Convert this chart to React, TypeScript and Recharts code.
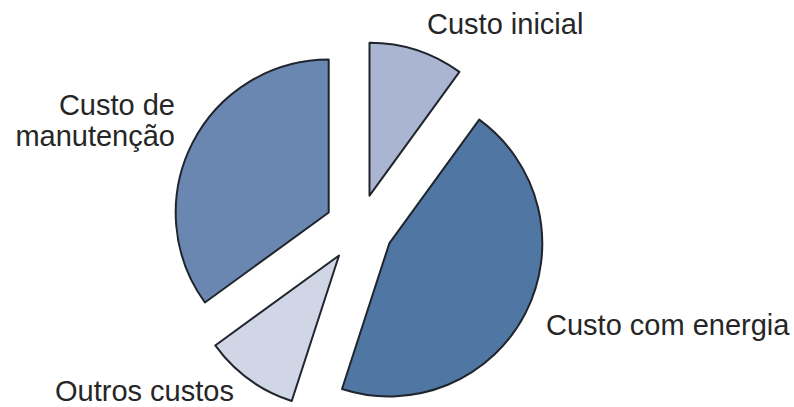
import React from "react";
import { PieChart, Pie, Cell } from "recharts";

// clockwise from 12 o'clock
const CATEGORIES = ["Custo inicial", "Custo com energia", "Outros custos", "Custo de manutenção"];
const SHARES = [10, 45, 10, 35];
const LABEL_LINES = [["Custo inicial"], ["Custo com energia"], ["Outros custos"], ["Custo de", "manutenção"]];

const COLORS = ["#aab6d1", "#5077a3", "#d0d6e5", "#6a87b2"];
const EDGE = "#20242c";
const TEXT = "#262626";
const FONT = "'Liberation Sans', Arial, sans-serif";

const W = 794;
const H = 407;
const CX = 359;
const CY = 228;
const RADIUS = 153;
const EXPLODE = 34;

// where each label sits (page px), hand placed like the original figure
const LABEL_POS = [
  { x: 427, y: 34, anchor: "start" },
  { x: 546, y: 335, anchor: "start" },
  { x: 55, y: 401, anchor: "start" },
  { x: 175, y: 115, anchor: "end" },
];

const rows = CATEGORIES.map((name, i) => ({ name, value: SHARES[i] }));
const total = SHARES.reduce((a, b) => a + b, 0);

// mid angle of each slice in recharts' degrees (0 = 3 o'clock, ccw positive)
const midAngle = (i: number) => {
  const before = SHARES.slice(0, i).reduce((a, b) => a + b, 0);
  return 90 - (360 * (before + SHARES[i] / 2)) / total;
};

const renderLabel = (visible: number) => (props: any) => {
  if (props.index !== visible) return null;
  const pos = LABEL_POS[visible];
  return (
    <text
      key={`lbl-${visible}`}
      x={pos.x}
      y={pos.y}
      textAnchor={pos.anchor as any}
      fill={TEXT}
      fontSize={29}
      fontFamily={FONT}
    >
      {LABEL_LINES[visible].map((line, j) => (
        <tspan key={j} x={pos.x} dy={j === 0 ? 0 : 31}>
          {line}
        </tspan>
      ))}
    </text>
  );
};

export default function App() {
  return (
    <div style={{ position: "absolute", left: 0, top: 0, width: W, height: H, background: "#fff" }}>
      <PieChart width={W} height={H} margin={{ top: 0, right: 0, bottom: 0, left: 0 }}>
        {rows.map((_, k) => {
          const a = (midAngle(k) * Math.PI) / 180;
          return (
            <Pie
              key={k}
              data={rows}
              dataKey="value"
              nameKey="name"
              cx={CX + EXPLODE * Math.cos(a)}
              cy={CY - EXPLODE * Math.sin(a)}
              innerRadius={0}
              outerRadius={RADIUS}
              startAngle={90}
              endAngle={-270}
              isAnimationActive={false}
              labelLine={false}
              label={renderLabel(k)}
            >
              {rows.map((__, i) => (
                <Cell
                  key={i}
                  fill={i === k ? COLORS[i] : "none"}
                  stroke={i === k ? EDGE : "none"}
                  strokeWidth={2}
                  strokeLinejoin="round"
                />
              ))}
            </Pie>
          );
        })}
      </PieChart>
    </div>
  );
}
